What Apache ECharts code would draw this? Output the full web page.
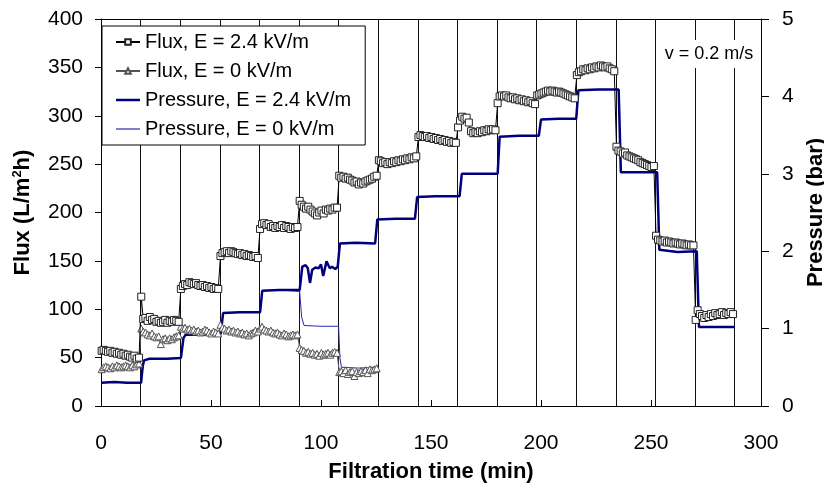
<!DOCTYPE html>
<html><head><meta charset="utf-8">
<script src="https://cdn.jsdelivr.net/npm/echarts@6/dist/echarts.min.js"></script>
<style>html,body{margin:0;padding:0;background:#fff}#c{width:824px;height:491px}</style>
</head><body><div id="c"></div>
<script>
// ---- data ----
const xTicks = [0, 50, 100, 150, 200, 250, 300];
const stepLength = 18;                       // min between pressure steps
const stepStarts = [0,18,36,54,72,90,108,126,144,162,180,198,216,234,252,270];
const sampleOffsets = [0.3,1.2,2.2,3.2,4.2,5.2,6.2,7.2,8.2,9.2,10.2,11.2,12.2,13.2,14.2,15.2,16.2,17.3];

// Flux, E = 2.4 kV/m (L/m2h), one row per step
const fluxHi = [
  [57,58,57,56,57,55,56,54,55,53,54,52,53,51,50,52,49,50],
  [113,90,91,88,92,89,90,87,88,86,87,89,86,88,87,89,88,87],
  [121,124,126,125,128,127,126,127,125,124,125,123,124,122,123,121,122,121],
  [155,158,159,160,158,160,159,158,157,158,156,157,155,156,155,154,155,153],
  [183,188,189,187,188,185,186,184,186,185,187,184,186,185,183,185,184,185],
  [212,208,206,204,206,203,201,199,197,200,202,199,203,202,204,203,205,205],
  [238,236,237,235,236,234,233,231,232,229,231,230,232,233,234,235,237,238],
  [254,253,251,252,250,252,251,253,252,254,253,255,254,256,255,257,256,258],
  [278,280,279,278,279,277,278,276,277,275,276,274,275,273,274,272,273,272],
  [288,295,299,297,298,293,284,282,283,282,284,283,285,284,286,285,286,285],
  [313,320,321,320,321,319,318,319,317,318,316,317,315,316,314,315,313,312],
  [321,322,323,324,325,326,325,326,325,324,325,324,323,322,321,320,319,318],
  [342,345,346,348,347,349,348,350,349,351,350,352,351,350,351,349,348,346],
  [268,264,263,261,262,259,258,257,256,255,254,252,251,250,249,248,247,248],
  [176,172,171,170,171,169,170,169,168,169,168,167,168,167,166,167,166,166],
  [89,99,95,93,91,94,92,95,93,96,94,95,97,94,96,95,97,95]
];
// Flux, E = 0 kV/m
const fluxLo = [
  [38,40,41,40,39,41,40,42,41,40,41,42,41,40,42,41,43,44],
  [80,77,76,74,73,75,72,71,72,64,69,70,68,70,69,71,72,73],
  [82,80,81,79,80,78,79,77,78,76,77,79,78,76,75,77,76,75],
  [84,81,80,78,79,77,78,76,77,75,76,74,75,73,75,76,78,77],
  [80,82,79,78,77,78,76,75,76,74,73,75,74,72,73,74,73,74],
  [60,58,57,55,56,54,55,53,54,52,55,53,54,55,53,55,56,55],
  [35,36,34,37,33,35,36,31,35,34,36,35,37,34,38,37,38,39]
];
// Pressure (bar) [time, value]
const pressHi = [
  [0,0.30],[6,0.31],[12,0.30],[18.2,0.30],[19,0.52],[19.6,0.59],[22,0.61],[30,0.61],[36.3,0.62],
  [37.5,0.88],[38.5,0.92],[46,0.92],[54.4,0.93],[55.5,1.2],[63,1.21],[72.3,1.21],[73.3,1.49],
  [81,1.5],[90.3,1.5],[91.5,1.8],[93,1.82],[94,1.78],[95,1.59],[96,1.76],[97.5,1.79],[99,1.78],
  [100,1.83],[101,1.68],[102.5,1.87],[104,1.78],[105,1.80],[106.5,1.77],[107.6,1.80],[108.6,2.1],
  [116,2.11],[124.6,2.1],[125.6,2.41],[134,2.42],[142.7,2.42],[143.7,2.7],[152,2.71],[163,2.71],
  [164,3.0],[172,3.0],[180.3,3.0],[181.2,3.48],[190,3.49],[199,3.49],[200,3.7],[208,3.71],
  [216,3.71],[217,4.08],[226,4.09],[235.3,4.09],[236.3,3.02],[244,3.02],[252.8,3.02],
  [253.8,2.02],[262,1.99],[270.8,2.0],[271.8,1.02],[280,1.02],[288,1.02]
];
const pressLo = [
  [0,0.30],[6,0.31],[12,0.30],[18.2,0.30],[19,0.52],[19.6,0.59],[22,0.61],[30,0.61],[36.3,0.62],
  [37.5,0.88],[38.5,0.92],[46,0.92],[54.4,0.93],[55.5,1.2],[63,1.21],[72.3,1.21],[73.3,1.49],
  [81,1.5],[90.3,1.48],[91.2,1.15],[92.3,1.04],[100,1.03],[108,1.03],[108.6,0.62],[109.3,0.5],
  [117,0.49],[126,0.5]
];
const legendNames = ['Flux, E = 2.4 kV/m','Flux, E = 0 kV/m','Pressure, E = 2.4 kV/m','Pressure, E = 0 kV/m'];
const noteText = 'v = 0.2 m/s';

// ---- build ----
function build(rows){
  const out = [];
  rows.forEach((row, s) => row.forEach((v, i) => out.push([stepStarts[s] + sampleOffsets[i], v])));
  return out;
}
const FONT = 'Liberation Sans';
const chart = echarts.init(document.getElementById('c'), null, {renderer:'canvas'});
chart.setOption({
  animation:false,
  backgroundColor:'#fff',
  textStyle:{fontFamily:FONT, color:'#000'},
  grid:{left:101, right:63, top:19, bottom:85, containLabel:false, outerBoundsMode:'none'},
  legend:{
    data:[
      {name:legendNames[0]},
      {name:legendNames[1]},
      {name:legendNames[2], icon:'path://M0,0 H24 V2.5 H0 Z'},
      {name:legendNames[3], icon:'path://M0,0 H24 V1.2 H0 Z'}
    ],
    orient:'vertical', left:102, top:26,
    backgroundColor:'#fff', borderColor:'#000', borderWidth:1,
    padding:[6,14,6,13], itemWidth:24, itemHeight:7, itemGap:9, symbolKeepAspect:true,
    textStyle:{fontFamily:FONT, fontSize:20, color:'#000', lineHeight:20},
    z:20
  },
  graphic:[{
    type:'text', x:709, y:54, z:100,
    style:{text:noteText, fontFamily:FONT, fontSize:18, fill:'#000', align:'center', verticalAlign:'middle',
      backgroundColor:'#fff', padding:[5,5]}
  }],
  xAxis:[{
    type:'value', min:xTicks[0], max:xTicks[xTicks.length-1], interval:50, position:'bottom',
    name:'Filtration time (min)', nameLocation:'middle', nameGap:55,
    nameTextStyle:{fontFamily:FONT, fontSize:22, fontWeight:'bold', color:'#000'},
    axisLine:{show:true, onZero:false, lineStyle:{color:'#000', width:1}},
    axisTick:{show:true, inside:true, length:6, lineStyle:{color:'#000'}},
    axisLabel:{fontFamily:FONT, fontSize:21, color:'#000', margin:27},
    splitLine:{show:false}
  },{
    type:'value', min:0, max:xTicks[xTicks.length-1], interval:stepLength, position:'top',
    axisLine:{show:true, onZero:false, lineStyle:{color:'#000', width:1}},
    axisTick:{show:false}, axisLabel:{show:false},
    splitLine:{show:true, lineStyle:{color:'#111', width:1}}
  }],
  yAxis:[{
    type:'value', min:0, max:400, interval:50, position:'left',
    name:'Flux (L/m{sup|2}h)', nameLocation:'middle', nameGap:66, nameRotate:90,
    nameTextStyle:{fontFamily:FONT, fontSize:22, fontWeight:'bold', color:'#000',
      rich:{sup:{fontFamily:FONT, fontSize:13, fontWeight:'bold', verticalAlign:'top', padding:[0,0,11,0]}}},
    axisLine:{show:true, onZero:false, lineStyle:{color:'#000', width:1}},
    axisTick:{show:true, inside:false, length:6, lineStyle:{color:'#000', width:1}},
    axisLabel:{fontFamily:FONT, fontSize:21, color:'#000', margin:18},
    splitLine:{show:false}
  },{
    type:'value', min:0, max:5, interval:1, position:'right',
    name:'Pressure (bar)', nameLocation:'middle', nameGap:37, nameRotate:90,
    nameTextStyle:{fontFamily:FONT, fontSize:22, fontWeight:'bold', color:'#000'},
    axisLine:{show:true, onZero:false, lineStyle:{color:'#000', width:1}},
    axisTick:{show:true, inside:false, length:8, lineStyle:{color:'#000', width:1}},
    axisLabel:{fontFamily:FONT, fontSize:21, color:'#000', margin:21},
    splitLine:{show:false}
  }],
  series:[
    {name:legendNames[2], type:'line', yAxisIndex:1, data:pressHi, showSymbol:false, symbol:'none',
      lineStyle:{color:'#00007f', width:2.5}, itemStyle:{color:'#00007f'}, z:3},
    {name:legendNames[3], type:'line', yAxisIndex:1, data:pressLo, showSymbol:false, symbol:'none',
      lineStyle:{color:'#2a2ab0', width:1}, itemStyle:{color:'#2a2ab0'}, z:2},
    {name:legendNames[1], type:'line', data:build(fluxLo), symbol:'triangle', symbolSize:7,
      lineStyle:{color:'#555', width:1}, itemStyle:{color:'#fff', borderColor:'#555', borderWidth:1}, z:4},
    {name:legendNames[0], type:'line', data:build(fluxHi), symbol:'rect', symbolSize:7,
      lineStyle:{color:'#000', width:1}, itemStyle:{color:'#fff', borderColor:'#222', borderWidth:1}, z:5}
  ]
});
</script></body></html>
